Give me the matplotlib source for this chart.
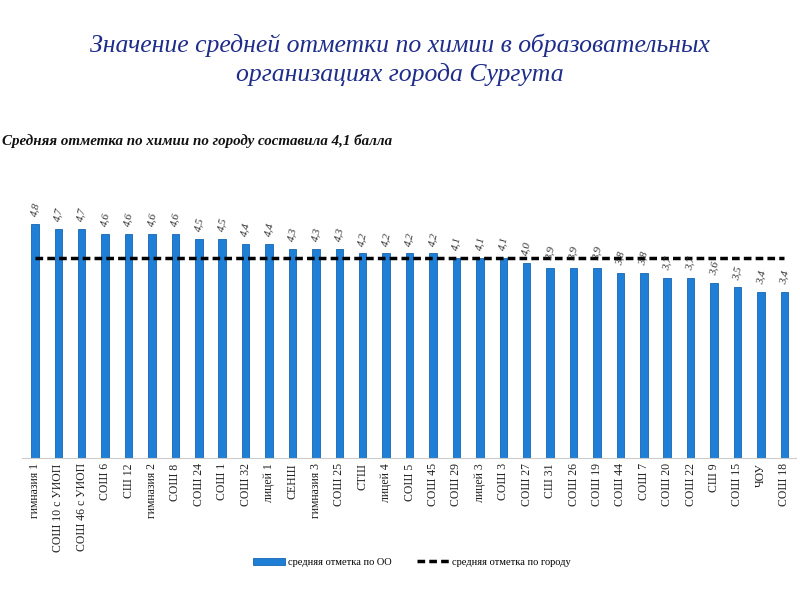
import matplotlib
matplotlib.use("Agg")
import matplotlib.pyplot as plt
import numpy as np

schools = ["гимназия 1", "СОШ 10 с УИОП", "СОШ 46 с УИОП", "СОШ 6", "СШ 12", "гимназия 2",
           "СОШ 8", "СОШ 24", "СОШ 1", "СОШ 32", "лицей 1", "СЕНШ", "гимназия 3", "СОШ 25",
           "СТШ", "лицей 4", "СОШ 5", "СОШ 45", "СОШ 29", "лицей 3", "СОШ 3", "СОШ 27",
           "СШ 31", "СОШ 26", "СОШ 19", "СОШ 44", "СОШ 7", "СОШ 20", "СОШ 22", "СШ 9",
           "СОШ 15", "ЧОУ", "СОШ 18"]
school_avg = [4.8, 4.7, 4.7, 4.6, 4.6, 4.6, 4.6, 4.5, 4.5, 4.4, 4.4, 4.3, 4.3, 4.3,
              4.2, 4.2, 4.2, 4.2, 4.1, 4.1, 4.1, 4.0, 3.9, 3.9, 3.9, 3.8, 3.8, 3.7,
              3.7, 3.6, 3.5, 3.4, 3.4]
city_avg = 4.1

plt.rcParams['font.family'] = ['Liberation Serif', 'DejaVu Serif']

fig = plt.figure(figsize=(8, 6), dpi=100)
ax = fig.add_axes([0.0275, 0.237, 0.9675, 0.438])

x = np.arange(len(schools))
bars = ax.bar(x, school_avg, width=0.32, color='#1f7fd6', edgecolor='#1565b0', linewidth=0.6,
              label='средняя отметка по ОО')
line, = ax.plot(x, [city_avg] * len(x), color='black', linestyle=(0, (2.2, 1.2)), linewidth=2.5,
                label='средняя отметка по городу')

for xi, v in zip(x, school_avg):
    ax.text(xi, v + 0.14, f"{v:.1f}".replace('.', ','), rotation=78, ha='center', va='bottom',
            fontsize=8, style='italic', color='#333333')

ax.set_xlim(-0.55, 32.5)
ax.set_ylim(0, 5.4)
ax.set_xticks(x)
ax.set_xticklabels(schools, rotation=90, fontsize=8.5, color='#222222')
ax.tick_params(axis='x', length=0, pad=4)
ax.set_yticks([])
for s in ['top', 'left', 'right']:
    ax.spines[s].set_visible(False)
ax.spines['bottom'].set_color('#cccccc')

fig.text(0.5, 0.925, "Значение средней отметки по химии в образовательных",
         ha='center', va='center', fontsize=18.5, style='italic', color='#1f2d8a')
fig.text(0.5, 0.875, "организациях города Сургута",
         ha='center', va='center', fontsize=18.5, style='italic', color='#1f2d8a')
fig.text(0.002, 0.765, "Средняя отметка по химии по городу составила 4,1 балла",
         ha='left', va='center', fontsize=10.8, style='italic', weight='bold', color='#111111')

fig.legend([bars, line], ['средняя отметка по ОО', 'средняя отметка по городу'],
           loc='center', bbox_to_anchor=(0.515, 0.063), ncol=2, frameon=False, fontsize=7.5,
           handlelength=3.0, columnspacing=2.5, handletextpad=0.3)

fig.savefig("out.png", dpi=100)
